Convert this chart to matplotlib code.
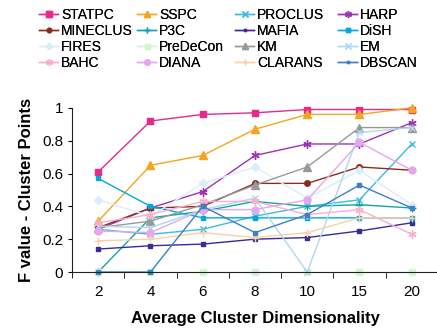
import matplotlib
matplotlib.use("Agg")
import matplotlib.pyplot as plt

plt.rcParams['font.family'] = ['Liberation Sans', 'DejaVu Sans']

dims = ["2", "4", "6", "8", "10", "15", "20"]

statpc   = [0.61, 0.92, 0.96, 0.97, 0.99, 0.99, 0.99]
sspc     = [0.31, 0.65, 0.71, 0.87, 0.96, 0.96, 1.00]
proclus  = [0.26, 0.23, 0.26, 0.34, 0.40, 0.44, 0.78]
harp     = [0.26, 0.39, 0.49, 0.71, 0.78, 0.78, 0.91]
mineclus = [0.27, 0.39, 0.40, 0.54, 0.54, 0.64, 0.62]
p3c      = [0.00, 0.33, 0.37, 0.43, 0.40, 0.41, 0.39]
mafia    = [0.14, 0.16, 0.17, 0.20, 0.21, 0.25, 0.30]
dish     = [0.57, 0.40, 0.33, 0.33, 0.33, 0.33, 0.33]
fires    = [0.44, 0.34, 0.54, 0.64, 0.45, 0.62, 0.41]
predecon = [0.00, 0.00, 0.00, 0.00, 0.00, 0.00, 0.00]
km       = [0.27, 0.31, 0.41, 0.53, 0.64, 0.88, 0.88]
em       = [0.28, 0.27, 0.38, 0.45, 0.00, 0.85, 0.88]
bahc     = [0.30, 0.35, 0.43, 0.43, 0.35, 0.38, 0.23]
diana    = [0.25, 0.24, 0.38, 0.38, 0.44, 0.79, 0.62]
clarans  = [0.19, 0.20, 0.24, 0.21, 0.24, 0.33, 0.33]
dbscan   = [0.00, 0.00, 0.40, 0.24, 0.35, 0.53, 0.39]

asterisk = (6, 2, 0)

series = [
    ("STATPC",   statpc,   "#e8298c", "s", 5),
    ("SSPC",     sspc,     "#f5a41f", "^", 5.5),
    ("PROCLUS",  proclus,  "#3bbbe0", "x", 5),
    ("HARP",     harp,     "#a030b8", asterisk, 6),
    ("MINECLUS", mineclus, "#8b2d1e", "o", 4),
    ("P3C",      p3c,      "#10a5a5", "+", 6),
    ("MAFIA",    mafia,    "#3a2a9a", "s", 2.5),
    ("DiSH",     dish,     "#00a8e0", "s", 3),
    ("FIRES",    fires,    "#d8eef8", "D", 4),
    ("PreDeCon", predecon, "#d4f4d4", "s", 4.5),
    ("KM",       km,       "#999999", "^", 5.5),
    ("EM",       em,       "#b0d8f0", "x", 5),
    ("BAHC",     bahc,     "#f8b0d0", asterisk, 6),
    ("DIANA",    diana,    "#e4a8ec", "o", 5),
    ("CLARANS",  clarans,  "#fcd0a8", "+", 6),
    ("DBSCAN",   dbscan,   "#3d7fc9", "s", 2.5),
]

W, H = 437, 335
fig = plt.figure(figsize=(W / 100, H / 100), dpi=100)
ax = fig.add_axes([0.165, 0.188, 0.837, 0.49])

xs = list(range(1, len(dims) + 1))
handles = []
for name, vals, col, mk, ms in series:
    h, = ax.plot(xs, vals, color=col, marker=mk, markersize=ms, linewidth=1.0,
                 markeredgewidth=1.0, label=name, clip_on=False)
    handles.append(h)

ax.set_xlim(0.5, 7.5)
ax.set_ylim(0, 1.0)
ax.set_xticks(xs)
ax.set_xticklabels(dims, fontsize=11)
ax.set_xticks([x + 0.5 for x in range(0, 7)], minor=True)
ax.tick_params(axis='x', which='major', length=0, pad=9)
ax.tick_params(axis='x', which='minor', length=4, direction='out')
ax.set_yticks([0, 0.2, 0.4, 0.6, 0.8, 1.0])
ax.set_yticklabels(["0", "0.2", "0.4", "0.6", "0.8", "1"], fontsize=11)
ax.tick_params(axis='y', length=3, direction='out')

for s in ("top", "right"):
    ax.spines[s].set_visible(False)
ax.spines["left"].set_color("#222222")
ax.spines["bottom"].set_color("#222222")

ax.set_xlabel("Average Cluster Dimensionality", fontsize=12, fontweight="bold", labelpad=9)
ax.set_ylabel("F value - Cluster Points", fontsize=12, fontweight="bold", labelpad=6)

# legend laid out as four fixed-width columns, entries filled row by row
col_left_px = [39, 137, 235, 338]
for c, xpx in enumerate(col_left_px):
    idx = [r * 4 + c for r in range(4)]
    leg = fig.legend([handles[i] for i in idx], [series[i][0] for i in idx],
                     loc="upper left", bbox_to_anchor=(xpx / W, 1 - 8 / H),
                     ncol=1, frameon=False, fontsize=10, handlelength=1.4,
                     handletextpad=0.2, labelspacing=0.14, borderpad=0,
                     borderaxespad=0, markerscale=0.8)
    fig.add_artist(leg)

fig.savefig("out.png", dpi=100)
